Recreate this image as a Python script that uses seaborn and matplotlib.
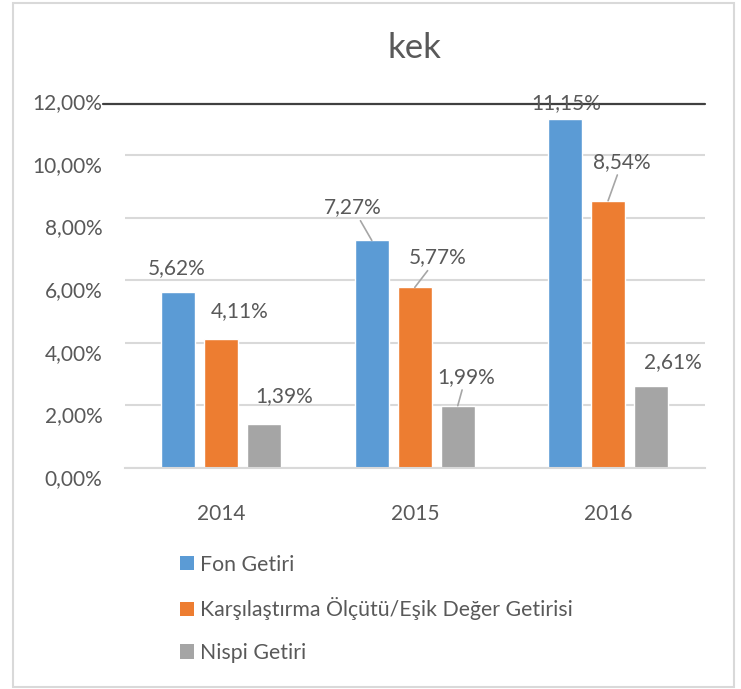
import pandas as pd
import matplotlib.pyplot as plt
import matplotlib.transforms as mtransforms
from matplotlib.patches import Rectangle, Patch
import seaborn as sns

years = ["2014", "2015", "2016"]
series = ["Fon Getiri", "Karşılaştırma Ölçütü/Eşik Değer Getirisi", "Nispi Getiri"]
fon = [5.62, 7.27, 11.15]
esik = [4.11, 5.77, 8.54]
nispi = [1.39, 1.99, 2.61]
colors = ["#5B9BD5", "#ED7D31", "#A5A5A5"]
yticks = [0, 2, 4, 6, 8, 10, 12]

# label offsets (px) from bar top, per series then per year, and which get leader lines
label_offsets = [
    [(-2, 24), (-19, 33), (1, 16)],
    [(18, 28), (23, 30), (14, 39)],
    [(20, 28), (8, 29), (22, 24)],
]
leaders = [
    [False, True, False],
    [False, True, True],
    [False, True, False],
]

rows = []
for name, vals in zip(series, [fon, esik, nispi]):
    for y, v in zip(years, vals):
        rows.append({"year": y, "series": name, "value": v})
df = pd.DataFrame(rows)

sns.set_style("white")
plt.rcParams["font.family"] = ["Lato", "DejaVu Sans"]
txt = "#595959"

fig = plt.figure(figsize=(7.41, 6.89), dpi=100)
ax = fig.add_axes([0.1684, 0.3208, 0.7827, 0.5451])

sns.barplot(data=df, x="year", y="value", hue="series", hue_order=series,
            palette=colors, width=0.667, gap=0.21, saturation=1, ax=ax,
            legend=False)

ax.set_ylim(0, 12)
ax.set_yticks(yticks)
ax.set_yticklabels([f"{t:.2f}%".replace(".", ",") for t in yticks])
ax.set_xlabel("")
ax.set_ylabel("")
ax.tick_params(axis="y", length=0, pad=16, labelsize=15, labelcolor=txt)
ax.tick_params(axis="x", length=0, pad=26, labelsize=15, labelcolor=txt)
ax.grid(axis="y", color="#D9D9D9", lw=1.5)
ax.set_axisbelow(True)
ax.get_ygridlines()[-1].set_visible(False)
for s in ["top", "right", "left"]:
    ax.spines[s].set_visible(False)
ax.spines["bottom"].set_color("#D9D9D9")
ax.spines["bottom"].set_linewidth(1.5)

shift = mtransforms.ScaledTranslation(0, -0.09, fig.dpi_scale_trans)
for lbl in ax.get_yticklabels():
    lbl.set_transform(lbl.get_transform() + shift)

# data labels
for i, cont in enumerate(ax.containers):
    for j, bar in enumerate(cont):
        v = bar.get_height()
        dx, dy = label_offsets[i][j]
        kw = {}
        if leaders[i][j]:
            kw["arrowprops"] = dict(arrowstyle="-", color="#A6A6A6", lw=1.2,
                                    shrinkA=0, shrinkB=0)
        ax.annotate(f"{v:.2f}%".replace(".", ","),
                    xy=(bar.get_x() + bar.get_width() / 2, v),
                    xytext=(dx * 0.72, dy * 0.72), textcoords="offset points",
                    ha="center", va="center", fontsize=15, color=txt, **kw)

# dark line drawn over the top of the plot
ax.axhline(11.63, xmin=-0.038, xmax=1, color="#404040", lw=1.6, clip_on=False)

ax.set_title("kek", fontsize=25, color=txt, pad=0, y=1.0 + 34 / 375.6)

handles = [Patch(facecolor=c, edgecolor="none") for c in colors]
fig.legend(handles, series, loc="upper left", bbox_to_anchor=(169 / 741, 145 / 689),
           frameon=False, fontsize=15.3, labelcolor=txt, handlelength=0.67,
           handleheight=0.67, handletextpad=0.3, labelspacing=1.07, borderpad=0)

fig.patches.append(Rectangle((13 / 741, 2 / 689), 721 / 741, 684 / 689,
                             transform=fig.transFigure, fill=False,
                             edgecolor="#D9D9D9", lw=1.5))

fig.savefig("out.png", dpi=100, facecolor="white")
